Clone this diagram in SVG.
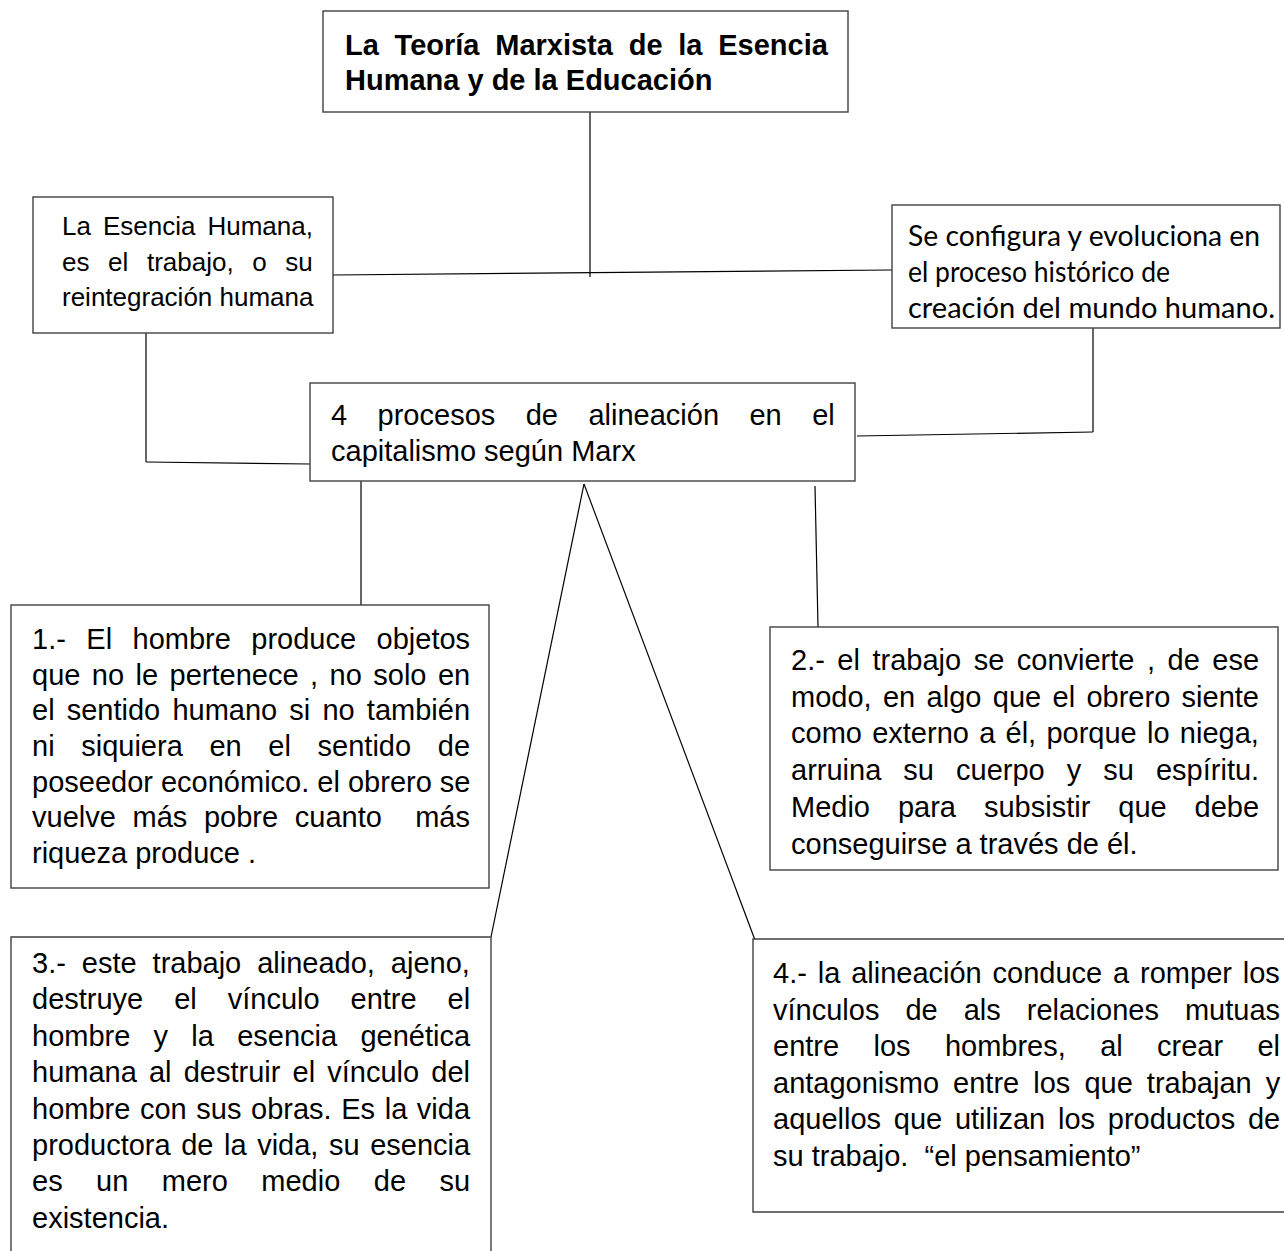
<svg xmlns="http://www.w3.org/2000/svg" width="1284" height="1251" viewBox="0 0 1284 1251">
<style>
.bg{fill:#fff}
.box{fill:#fff;stroke:#404040;stroke-width:1.4}
.ln{fill:none;stroke:#000;stroke-width:1.2}
.t{font-family:"Liberation Sans",Arial,sans-serif;font-size:29px;fill:#000}
.s{font-size:26px}
.b{font-weight:bold}
.c{font-family:Lato,"Open Sans",sans-serif;font-size:29px;fill:#000}
</style>
<rect class="bg" x="0" y="0" width="1284" height="1251"/>
<g id="connectors">
<line class="ln" x1="590" y1="112" x2="590" y2="277"/>
<line class="ln" x1="333" y1="275" x2="892" y2="270"/>
<line class="ln" x1="146" y1="333" x2="146" y2="462"/>
<line class="ln" x1="146" y1="462" x2="310" y2="464"/>
<line class="ln" x1="1093" y1="328" x2="1093" y2="432"/>
<line class="ln" x1="1093" y1="432" x2="857" y2="436"/>
<line class="ln" x1="361" y1="481" x2="361" y2="605"/>
<line class="ln" x1="815" y1="486" x2="818" y2="627"/>
<line class="ln" x1="584" y1="484" x2="491" y2="937"/>
<line class="ln" x1="584" y1="484" x2="755" y2="940"/>
</g>
<g id="title">
<rect class="box" x="323" y="11" width="525" height="101"/>
<text class="t b" x="345" y="55" style="word-spacing:7.7px">La Teoría Marxista de la Esencia</text>
<text class="t b" x="345" y="90">Humana y de la Educación</text>
</g>
<g id="esencia">
<rect class="box" x="33" y="197" width="300" height="136"/>
<text class="t s" x="62" y="235" style="word-spacing:4.8px">La Esencia Humana,</text>
<text class="t s" x="62" y="271" style="word-spacing:11.4px">es el trabajo, o su</text>
<text class="t s" x="62" y="306">reintegración humana</text>
</g>
<g id="configura">
<rect class="box" x="892" y="205" width="388" height="123"/>
<text class="c" x="908" y="246" textLength="352" lengthAdjust="spacingAndGlyphs">Se configura y evoluciona en</text>
<text class="c" x="908" y="282" textLength="262" lengthAdjust="spacingAndGlyphs">el proceso histórico de</text>
<text class="c" x="908" y="318" textLength="367" lengthAdjust="spacingAndGlyphs">creación del mundo humano.</text>
</g>
<g id="procesos">
<rect class="box" x="310" y="383" width="545" height="98"/>
<text class="t" x="331" y="425" style="word-spacing:22.4px">4 procesos de alineación en el</text>
<text class="t" x="331" y="461">capitalismo según Marx</text>
</g>
<g id="proceso1">
<rect class="box" x="11" y="605" width="478" height="283"/>
<text class="t" x="32" y="649" style="word-spacing:12.4px">1.- El hombre produce objetos</text>
<text class="t" x="32" y="685" style="word-spacing:3.4px">que no le pertenece , no solo en</text>
<text class="t" x="32" y="720" style="word-spacing:4.1px">el sentido humano si no también</text>
<text class="t" x="32" y="756" style="word-spacing:18.6px">ni siquiera en el sentido de</text>
<text class="t" x="32" y="792">poseedor económico. el obrero se</text>
<text class="t" x="32" y="827" xml:space="preserve" style="word-spacing:8.6px">vuelve más pobre cuanto  más</text>
<text class="t" x="32" y="863" xml:space="preserve">riqueza produce .</text>
</g>
<g id="proceso2">
<rect class="box" x="770" y="627" width="508" height="243"/>
<text class="t" x="791" y="670" style="word-spacing:4.46px">2.- el trabajo se convierte , de ese</text>
<text class="t" x="791" y="707" style="word-spacing:3.3px">modo, en algo que el obrero siente</text>
<text class="t" x="791" y="743" style="word-spacing:2.2px">como externo a él, porque lo niega,</text>
<text class="t" x="791" y="780" style="word-spacing:14px">arruina su cuerpo y su espíritu.</text>
<text class="t" x="791" y="817" style="word-spacing:19.9px">Medio para subsistir que debe</text>
<text class="t" x="791" y="854">conseguirse a través de él.</text>
</g>
<g id="proceso3">
<path class="box" d="M11,1252 V937 H491 V1252"/>
<text class="t" x="32" y="973" style="word-spacing:7.9px">3.- este trabajo alineado, ajeno,</text>
<text class="t" x="32" y="1009.4" style="word-spacing:22.9px">destruye el vínculo entre el</text>
<text class="t" x="32" y="1045.8" style="word-spacing:15.2px">hombre y la esencia genética</text>
<text class="t" x="32" y="1082.2" style="word-spacing:4.1px">humana al destruir el vínculo del</text>
<text class="t" x="32" y="1118.6" style="word-spacing:1.55px">hombre con sus obras. Es la vida</text>
<text class="t" x="32" y="1155" style="word-spacing:2.5px">productora de la vida, su esencia</text>
<text class="t" x="32" y="1191.4" style="word-spacing:25.4px">es un mero medio de su</text>
<text class="t" x="32" y="1227.8">existencia.</text>
</g>
<g id="proceso4">
<path class="box" d="M1290,939 H753 V1212 H1290"/>
<text class="t" x="773" y="983" style="word-spacing:2.8px">4.- la alineación conduce a romper los</text>
<text class="t" x="773" y="1019.5" style="word-spacing:17.95px">vínculos de als relaciones mutuas</text>
<text class="t" x="773" y="1056" style="word-spacing:26.3px">entre los hombres, al crear el</text>
<text class="t" x="773" y="1092.5" style="word-spacing:6px">antagonismo entre los que trabajan y</text>
<text class="t" x="773" y="1129" style="word-spacing:4.7px">aquellos que utilizan los productos de</text>
<text class="t" x="773" y="1165.5" xml:space="preserve">su trabajo.  “el pensamiento”</text>
</g>
</svg>
